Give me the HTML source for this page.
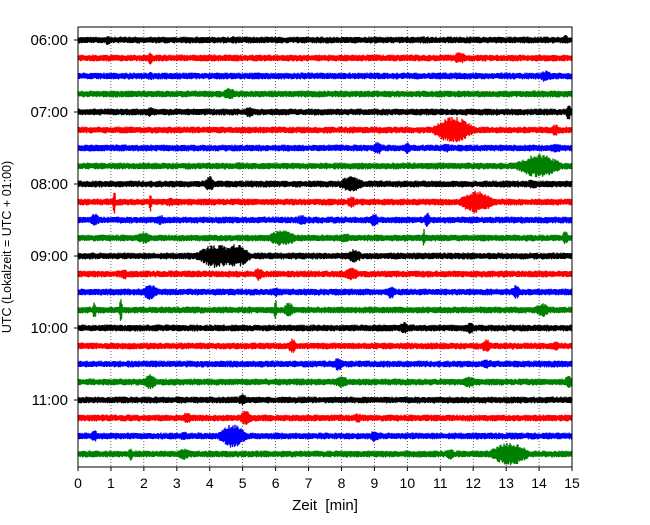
<!DOCTYPE html>
<html><head><meta charset="utf-8"><style>
body{margin:0;background:#fff}
svg{font-family:"Liberation Sans","DejaVu Sans",sans-serif}
</style></head><body>
<svg id="chart" width="650" height="520">
<g id="grid"></g>
<g id="traces"></g>
<rect x="78" y="27" width="494" height="440" fill="none" stroke="#000" stroke-width="1"/>
<g id="xaxis"></g>
<g id="yaxis"></g>
<text x="325" y="510" font-size="15" text-anchor="middle">Zeit&#160;&#160;[min]</text>
<text transform="translate(11,247) rotate(-90)" font-size="12.5" text-anchor="middle">UTC (Lokalzeit = UTC + 01:00)</text>
</svg>
<script>
const rowCount = 24;
const rowColors = ["#000000","#ff0000","#0000ff","#008000"];
const xTicks = [0,1,2,3,4,5,6,7,8,9,10,11,12,13,14,15];
const yTickRows = [0,4,8,12,16,20];
const yTickLabels = ["06:00","07:00","08:00","09:00","10:00","11:00"];
const baseAmp = 3.4;
// events: row index, time [min], half-amplitude, duration [min]
const evRow = [0,0,0,0, 1,1,1, 2,2, 3,3, 4,4,4, 5,5,5, 6,6,6,6, 7,7, 8,8,8, 9,9,9,9,9, 10,10,10,10,10, 11,11,11,11,11, 12,12,12, 13,13,13, 14,14,14,14, 15,15,15,15,15, 16,16, 17,17,17, 18,18, 19,19,19,19, 20,20, 21,21,21, 22,22,22,22, 23,23,23,23];
const evTime = [0.9,4.7,10.5,14.8, 2.2,11.6,4.2, 14.2,2.2, 4.6,3.9, 5.2,14.9,2.2, 11.4,14.5,2.4, 9.1,10.0,11.2,14.5, 14.0,4.9, 4.0,8.3,13.8, 1.1,2.2,8.3,12.1,2.8, 0.5,9.0,10.6,2.5,6.8, 2.0,6.2,10.5,14.8,8.1, 4.2,4.8,8.4, 1.4,5.5,8.3, 2.2,6.0,9.5,13.3, 0.5,1.3,6.0,6.4,14.1, 9.9,11.9, 6.5,12.4,14.5, 7.9,12.4, 2.2,8.0,11.9,14.9, 5.0,3.1, 3.3,5.1,8.5, 0.5,4.7,9.0,3.2, 1.6,3.2,11.3,13.1];
const evAmp = [5,4,4,5, 7,6,4, 6,4, 6,4, 6,9,5, 14,6,4, 7,6,5,5, 12,4, 8,8,5, 14,12,6,12,5, 7,7,9,5,5, 6,8,10,7,5, 12,12,7, 6,7,7, 8,6,7,7, 8,16,13,8,7, 6,6, 8,7,5, 7,5, 8,6,6,8, 6,4, 6,8,5, 6,12,6,5, 7,6,6,12];
const evDur = [0.15,0.2,0.2,0.15, 0.1,0.3,0.2, 0.3,0.3, 0.3,0.2, 0.2,0.1,0.2, 0.7,0.2,0.2, 0.2,0.15,0.2,0.3, 0.8,0.3, 0.2,0.5,0.3, 0.05,0.05,0.2,0.6,0.2, 0.2,0.2,0.1,0.3,0.3, 0.3,0.6,0.05,0.15,0.3, 0.7,0.5,0.3, 0.15,0.2,0.3, 0.3,0.15,0.2,0.2, 0.1,0.05,0.05,0.2,0.3, 0.2,0.2, 0.15,0.2,0.2, 0.2,0.3, 0.25,0.3,0.3,0.15, 0.2,0.2, 0.2,0.25,0.2, 0.15,0.5,0.2,0.2, 0.1,0.3,0.2,0.7];

const X0=78, X1=572, Y0=40, ROWH=18;
const xs = t => X0 + (t/15)*(X1-X0);
const ys = r => Y0 + r*ROWH;
const NS="http://www.w3.org/2000/svg";
function mk(tag, attrs, parent){const e=document.createElementNS(NS,tag);for(const k in attrs)e.setAttribute(k,attrs[k]);parent.appendChild(e);return e;}

const grid=document.getElementById('grid');
xTicks.forEach(t=>{ if(t>0&&t<15){
  const l=mk('line',{x1:xs(t),x2:xs(t),y1:27,y2:467,stroke:'#000','stroke-width':0.6,'stroke-dasharray':'1,2'},grid);
  
  
}});

// texture generator (visual noise only; envelope comes from data arrays)
let seed=12345;
function rnd(){seed=(seed*1103515245+12345)%2147483648;return seed/2147483648*2-1;}
const tr=document.getElementById('traces');
for(let r=0;r<rowCount;r++){
  let d='';
  const yc=ys(r);
  let k=0;
  for(let px=X0;px<=X1;px+=0.5){
    const t=(px-X0)/(X1-X0)*15;
    let a=baseAmp;
    for(let i=0;i<evRow.length;i++){ if(evRow[i]!==r) continue;
      const dt=(t-evTime[i])/evDur[i];
      if(Math.abs(dt)<3){a=Math.max(a,evAmp[i]*Math.exp(-dt*dt*1.5));}
    }
    const y=yc+a*(0.6+0.4*Math.abs(rnd()))*((k++)%2?1:-1);
    d+=(d?'L':'M')+px.toFixed(1)+','+y.toFixed(1);
  }
  const p=mk('path',{d:d,stroke:rowColors[r%4],'stroke-width':1.3,fill:'none'},tr);
  
  
}

const xa=document.getElementById('xaxis');
xTicks.forEach(t=>{
  const l=mk('line',{x1:xs(t),x2:xs(t),y1:467,y2:471,stroke:'#000'},xa);
  
  
  const tx=mk('text',{x:xs(t),y:488,'font-size':14,'text-anchor':'middle'},xa);
  tx.textContent=t;
  
  
});
const ya=document.getElementById('yaxis');
yTickRows.forEach((r,i)=>{
  const l=mk('line',{x1:74,x2:78,y1:ys(r),y2:ys(r),stroke:'#000'},ya);
  
  
  const tx=mk('text',{x:68,y:ys(r)+5,'font-size':15,'text-anchor':'end'},ya);
  tx.textContent=yTickLabels[i];
  
  
});
</script>
</body></html>
